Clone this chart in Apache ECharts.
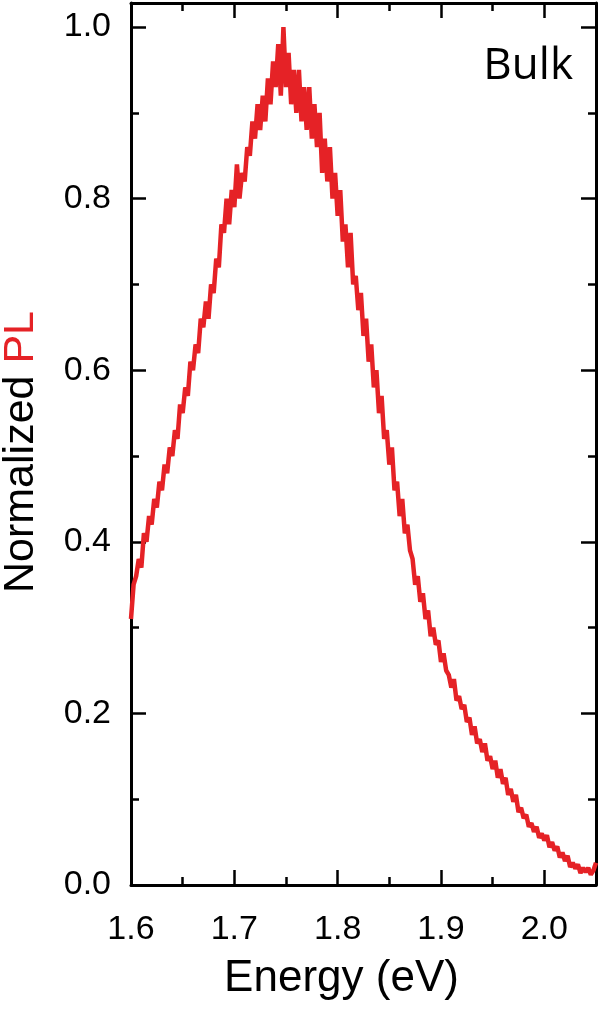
<!DOCTYPE html>
<html>
<head>
<meta charset="utf-8">
<script src="https://cdn.jsdelivr.net/npm/echarts@6/dist/echarts.min.js"></script>
<style>
  html, body { margin: 0; padding: 0; background: #fff; }
  #chart { width: 600px; height: 1012px; }
</style>
</head>
<body>
<div id="chart"></div>
<script>
// energy grid (eV): start and spacing of the sampled spectrum
const energyStart = 1.6
const energyStep = 0.0025

// normalized PL, one value per 0.0025 eV
const plValues = [
  0.31, 0.35, 0.36, 0.38,   0.37, 0.41, 0.40, 0.43,
  0.42, 0.45, 0.44, 0.47,   0.46, 0.49, 0.48, 0.51,
  0.50, 0.53, 0.52, 0.56,   0.55, 0.58, 0.57, 0.61,
  0.60, 0.63, 0.62, 0.66,   0.65, 0.68, 0.66, 0.70,
  0.69, 0.73, 0.72, 0.77,   0.76, 0.80, 0.77, 0.81,
  0.79, 0.84, 0.80, 0.83,   0.82, 0.86, 0.85, 0.89,
  0.87, 0.91, 0.88, 0.92,   0.89, 0.94, 0.91, 0.96,
  0.93, 0.98, 0.92, 1.00,   0.93, 0.97, 0.91, 0.95,
  0.90, 0.95, 0.89, 0.93,   0.88, 0.93, 0.87, 0.91,
  0.86, 0.90, 0.83, 0.87,   0.82, 0.86, 0.80, 0.83,
  0.78, 0.81, 0.75, 0.77,   0.72, 0.76, 0.70, 0.71,
  0.67, 0.69, 0.64, 0.66,   0.61, 0.63, 0.58, 0.60,
  0.55, 0.57, 0.52, 0.53,   0.49, 0.51, 0.46, 0.47,
  0.43, 0.45, 0.41, 0.42,   0.39, 0.38, 0.35, 0.36,
  0.33, 0.34, 0.31, 0.32,   0.29, 0.30, 0.28, 0.285,
  0.26, 0.27, 0.25, 0.245,  0.23, 0.24, 0.215, 0.22,
  0.205, 0.21, 0.19, 0.195, 0.175, 0.185, 0.165, 0.17,
  0.155, 0.165, 0.145, 0.15, 0.135, 0.145, 0.125, 0.135,
  0.118, 0.125, 0.105, 0.112, 0.097, 0.105, 0.085, 0.09,
  0.078, 0.082, 0.068, 0.072, 0.062, 0.068, 0.055, 0.06,
  0.052, 0.058, 0.044, 0.05, 0.04, 0.045, 0.032, 0.038,
  0.028, 0.034, 0.021, 0.026, 0.019, 0.024, 0.014, 0.02,
  0.015, 0.02, 0.012, 0.017,
  0.026
]

const xTicks = [1.6, 1.7, 1.8, 1.9, 2.0]
const yTicks = [0.0, 0.2, 0.4, 0.6, 0.8, 1.0]

const RED = '#e52226'
const FONT = '"Liberation Sans", Arial, sans-serif'

const seriesData = plValues.map((v, i) => [energyStart + i * energyStep, v])

const chart = echarts.init(document.getElementById('chart'))

const frameAxis = {
  axisLine: { show: true, onZero: false, lineStyle: { color: '#000', width: 3 } },
  axisTick: { show: true, inside: true, length: 15, lineStyle: { color: '#000', width: 2.5 } },
  minorTick: { show: true, splitNumber: 2, length: 8, lineStyle: { color: '#000', width: 2.5 } },
  splitLine: { show: false },
  minorSplitLine: { show: false }
}

const option = {
  animation: false,
  backgroundColor: '#fff',
  grid: { left: 131, right: 4, top: 3, bottom: 127, containLabel: false, outerBoundsMode: 'none' },
  xAxis: [
    {
      type: 'value',
      min: xTicks[0],
      max: 2.05,
      interval: 0.1,
      ...frameAxis,
      axisLabel: {
        margin: 28,
        fontSize: 34,
        fontFamily: FONT,
        color: '#000',
        showMaxLabel: false,
        formatter: v => v.toFixed(1)
      },
      name: 'Energy (eV)',
      nameLocation: 'middle',
      nameGap: 72,
      nameTextStyle: { fontSize: 44, fontFamily: FONT, color: '#000', padding: [0, 44, 0, 0] }
    },
    {
      type: 'value',
      position: 'top',
      min: xTicks[0],
      max: 2.05,
      interval: 0.1,
      ...frameAxis,
      axisLabel: { show: false }
    }
  ],
  yAxis: [
    {
      type: 'value',
      min: yTicks[0],
      max: 1.028,
      interval: 0.2,
      ...frameAxis,
      axisLabel: {
        margin: 20,
        fontSize: 34,
        fontFamily: FONT,
        color: '#000',
        showMaxLabel: false,
        formatter: v => v.toFixed(1)
      },
      name: '{a|Normalized }{b|PL}',
      nameLocation: 'middle',
      nameGap: 88,
      nameTextStyle: {
        fontFamily: FONT,
        padding: [0, 16, 0, 0],
        rich: {
          a: { fontSize: 43, fontFamily: FONT, color: '#000' },
          b: { fontSize: 43, fontFamily: FONT, color: RED }
        }
      }
    },
    {
      type: 'value',
      position: 'right',
      min: yTicks[0],
      max: 1.028,
      interval: 0.2,
      ...frameAxis,
      axisLabel: { show: false }
    }
  ],
  graphic: [
    {
      type: 'text',
      right: 27,
      top: 44,
      style: {
        text: 'Bulk',
        fontSize: 44,
        fontFamily: '"Open Sans", sans-serif',
        fill: '#000'
      }
    }
  ],
  series: [
    {
      type: 'line',
      data: seriesData,
      showSymbol: false,
      lineStyle: { color: RED, width: 4.5 },
      clip: true
    }
  ]
}

chart.setOption(option)
</script>
</body>
</html>
